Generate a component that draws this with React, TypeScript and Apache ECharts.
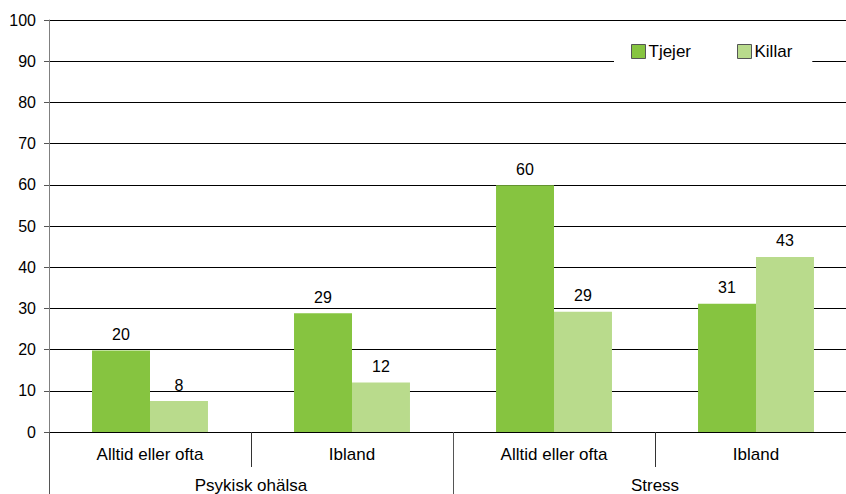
import React, { useEffect, useRef } from "react";
import * as echarts from "echarts";

const subCategories = ["Alltid eller ofta", "Ibland", "Alltid eller ofta", "Ibland"];
const groups = ["Psykisk ohälsa", "Stress"];
const tjejer = [19.8, 28.8, 59.9, 31.1];
const killar = [7.5, 12.0, 29.2, 42.5];
const seriesNames = ["Tjejer", "Killar"];

const FONT = "Liberation Sans, Arial, sans-serif";

export default function App() {
  const ref = useRef<HTMLDivElement>(null);
  useEffect(() => {
    if (!ref.current) return;
    const chart = echarts.init(ref.current, null, { renderer: "svg" });
    const labelCfg = {
      show: true,
      position: "top",
      distance: 8,
      color: "#000",
      fontSize: 16,
      fontFamily: FONT,
      formatter: (p: any) => String(Math.round(p.value)),
    };
    chart.setOption({
      animation: false,
      backgroundColor: "#fff",
      textStyle: { fontFamily: FONT },
      grid: { left: 49, top: 20, width: 808, height: 412, containLabel: false },
      legend: {
        left: 614,
        top: 35,
        padding: [8, 20, 8, 17],
        backgroundColor: "#fff",
        itemWidth: 14,
        itemHeight: 14,
        itemGap: 46,
        icon: "rect",
        textStyle: { color: "#000", fontSize: 17, fontFamily: FONT, padding: [0, 0, 0, -2] },
        itemStyle: { borderColor: "#555", borderWidth: 1 },
        data: seriesNames,
      },
      xAxis: [
        {
          type: "category",
          data: subCategories,
          position: "bottom",
          axisLine: { show: true, lineStyle: { color: "#000", width: 1 } },
          axisTick: { show: true, length: 35, lineStyle: { color: "#333" } },
          axisLabel: { color: "#000", fontSize: 17, fontFamily: FONT, margin: 14 },
          splitLine: { show: false },
        },
        {
          type: "category",
          data: groups,
          position: "bottom",
          axisLine: { show: false },
          axisTick: { show: true, length: 62, lineStyle: { color: "#555" } },
          axisLabel: { color: "#000", fontSize: 17, fontFamily: FONT, margin: 45 },
          splitLine: { show: false },
        },
      ],
      yAxis: {
        type: "value",
        min: 0,
        max: 100,
        interval: 10,
        axisLine: { show: true, lineStyle: { color: "#808080", width: 1 } },
        axisTick: { show: true, length: 5, lineStyle: { color: "#555" } },
        axisLabel: { color: "#000", fontSize: 16, fontFamily: FONT, margin: 13 },
        splitLine: { show: true, lineStyle: { color: "#000", width: 1 } },
      },
      series: [
        {
          name: seriesNames[0],
          type: "bar",
          data: tjejer,
          barGap: "0%",
          barCategoryGap: "42.6%",
          itemStyle: { color: "#86C440" },
          label: labelCfg,
        },
        {
          name: seriesNames[1],
          type: "bar",
          data: killar,
          barGap: "0%",
          barCategoryGap: "42.6%",
          itemStyle: { color: "#B9DB8C" },
          label: labelCfg,
        },
      ],
    });
    return () => chart.dispose();
  }, []);
  return (
    <div
      style={{
        position: "absolute",
        left: 0,
        top: 0,
        width: 846,
        height: 494,
        overflow: "hidden",
        background: "#fff",
      }}
    >
      <div ref={ref} style={{ width: 870, height: 494 }} />
    </div>
  );
}
